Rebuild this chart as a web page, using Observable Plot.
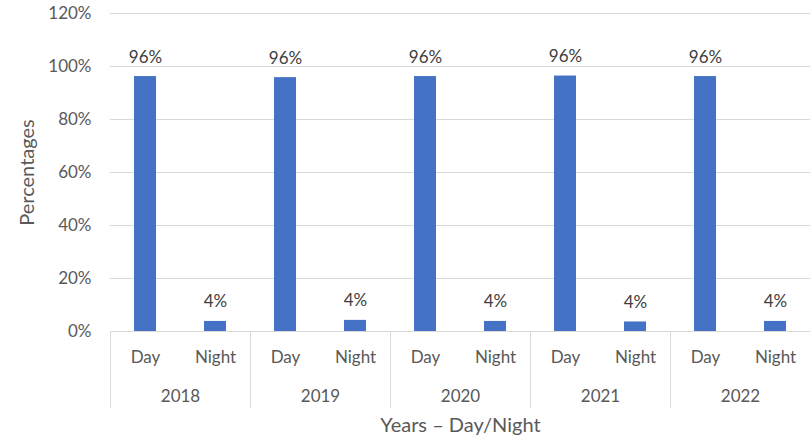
<!DOCTYPE html>
<html>
<head>
<meta charset="utf-8">
<script src="https://cdn.jsdelivr.net/npm/d3@7"></script>
<script src="https://cdn.jsdelivr.net/npm/@observablehq/plot@0.6"></script>
<style>
  html, body { margin: 0; padding: 0; background: #fff; }
  #chart svg { display: block; }
</style>
</head>
<body>
<div id="chart"></div>
<script>
// Share of observations by time of day, per year
const years = ["2018", "2019", "2020", "2021", "2022"];
const periods = ["Day", "Night"];
const dayShare = [0.962, 0.958, 0.962, 0.964, 0.962];
const nightShare = [0.038, 0.042, 0.038, 0.036, 0.038];
const yTicks = [0, 0.2, 0.4, 0.6, 0.8, 1.0, 1.2];

const rows = years.flatMap((year, i) => [
  {year, period: periods[0], value: dayShare[i]},
  {year, period: periods[1], value: nightShare[i]}
]);

const pct = d3.format(".0%");
const font = "Lato, 'Open Sans', sans-serif";

const plot = Plot.plot({
  width: 811,
  height: 440,
  marginLeft: 109,
  marginRight: 0,
  marginTop: 13,
  marginBottom: 109,
  style: {fontFamily: font, fontSize: "17px", background: "#fff"},
  fx: {domain: years, padding: 0},
  x: {domain: periods, paddingInner: 0.687, paddingOuter: 0.3435},
  y: {domain: [0, 1.2]},
  marks: [
    Plot.gridY(yTicks, {stroke: "#d9d9d9", strokeOpacity: 1, strokeWidth: 1}),
    Plot.barY(rows, {fx: "year", x: "period", y: "value", fill: "#4472C4"}),
    Plot.text(rows, {
      fx: "year", x: "period", y: "value",
      text: d => pct(d.value),
      lineAnchor: "bottom", dy: -14, fill: "#404040"
    }),
    // y tick labels
    Plot.axisY(yTicks, {tickFormat: pct, tickSize: 0, tickPadding: 19, fill: "#595959", label: null}),
    // y axis title
    Plot.axisY([], {
      fill: "#595959", fontSize: 20,
      label: "Percentages", labelAnchor: "center", labelArrow: "none", labelOffset: 91
    }),
    Plot.axisX({anchor: "bottom", tickSize: 0, tickPadding: 19, fill: "#595959", label: null}),
    // year labels
    Plot.axisFx({anchor: "bottom", tickSize: 0, tickPadding: 58, fill: "#595959", label: null}),
    // x axis title
    Plot.axisFx([], {
      anchor: "bottom", fill: "#595959", fontSize: 20,
      label: "Years – Day/Night", labelAnchor: "center", labelArrow: "none", labelOffset: 100
    })
  ]
});

// Year group separators below the category axis
const fx = plot.scale("fx");
const svg = d3.select(plot.tagName === "svg" ? plot : plot.querySelector("svg"));
const y0 = plot.scale("y").apply(0);
svg.append("g")
  .attr("stroke", "#d9d9d9")
  .selectAll("line")
  .data(years)
  .join("line")
  .attr("x1", d => Math.round(fx.apply(d)) + 0.5)
  .attr("x2", d => Math.round(fx.apply(d)) + 0.5)
  .attr("y1", y0)
  .attr("y2", y0 + 77);

document.getElementById("chart").appendChild(plot);
</script>
</body>
</html>
